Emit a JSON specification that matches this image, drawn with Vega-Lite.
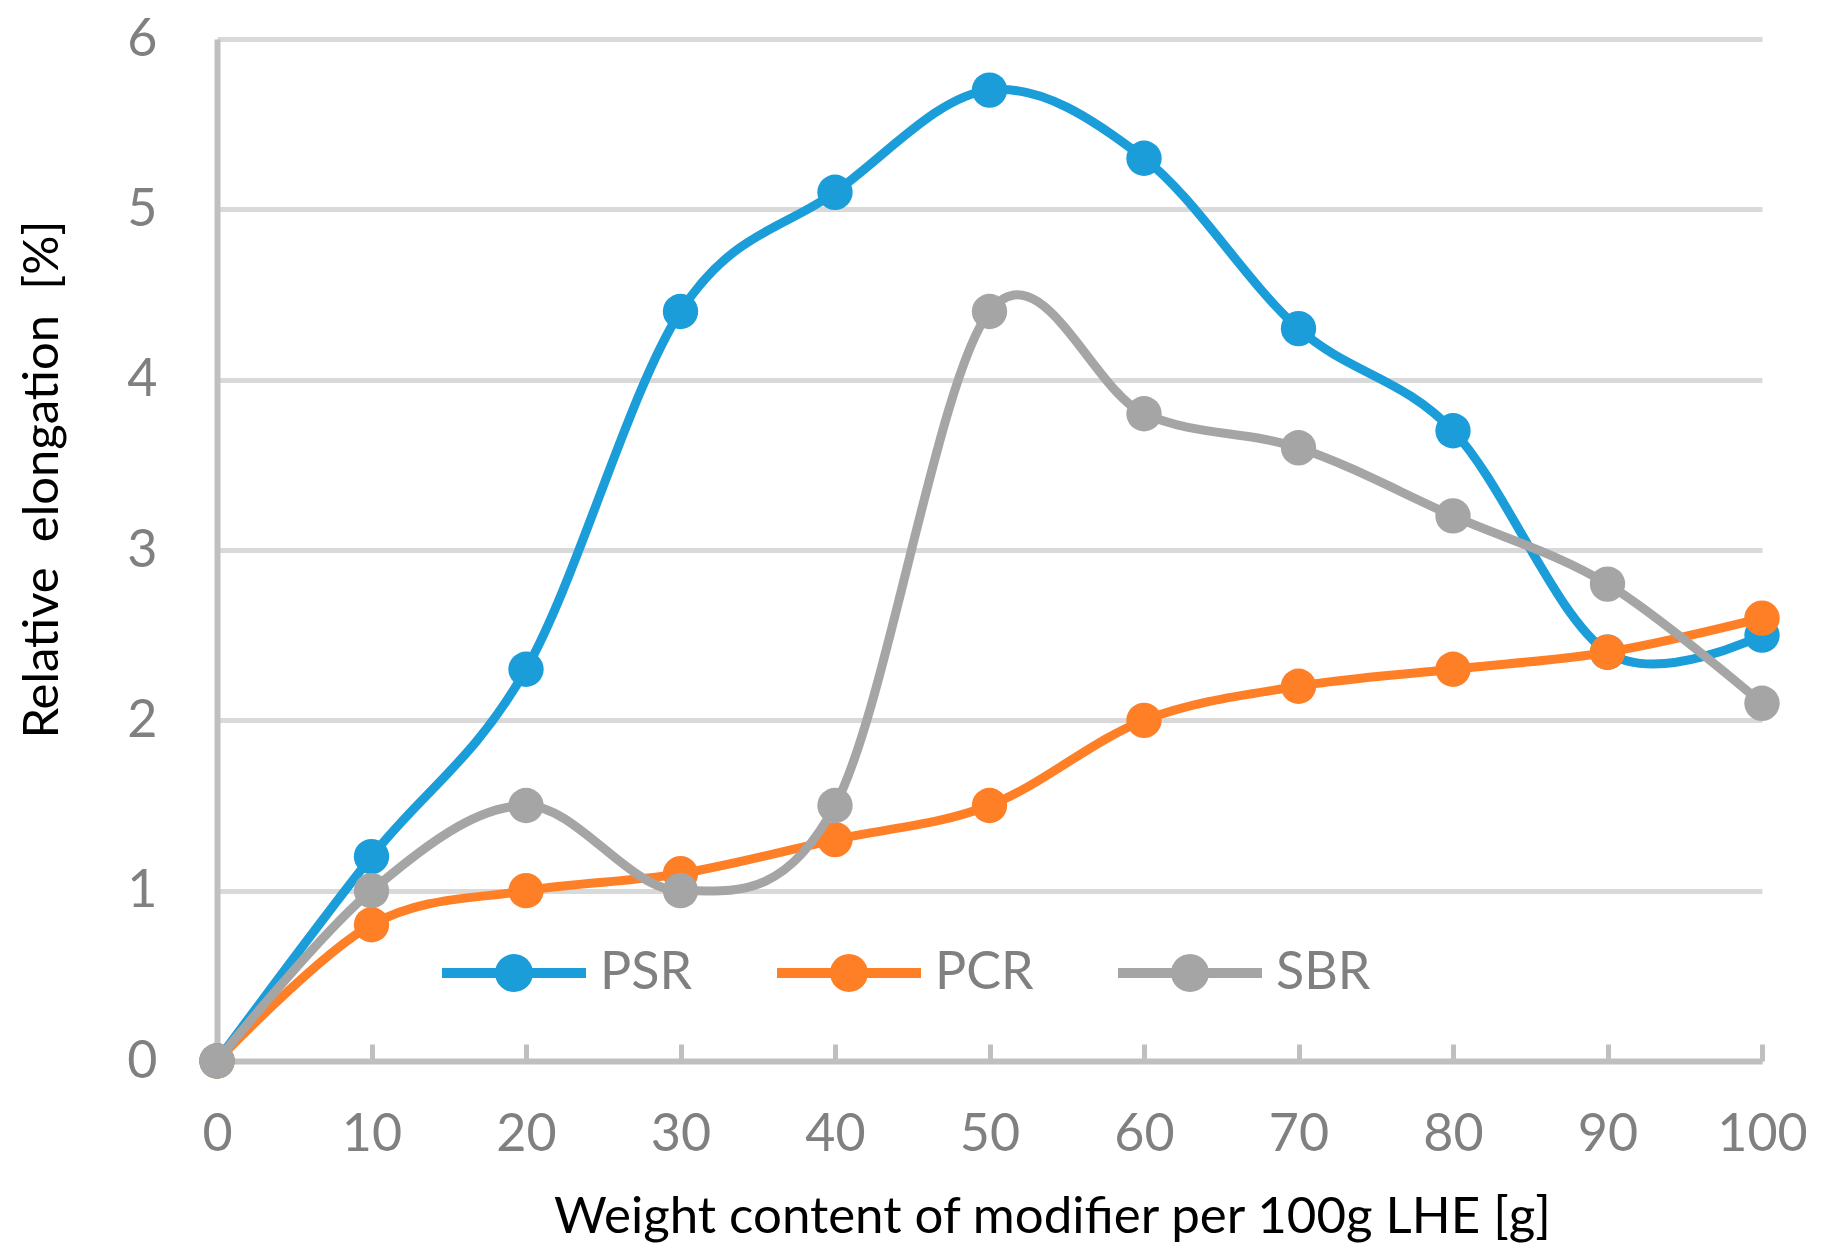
{
  "$schema": "https://vega.github.io/schema/vega-lite/v6.json",
  "width": 1545,
  "height": 1022,
  "autosize": {"type": "none"},
  "padding": {"left": 217, "top": 39, "right": 70, "bottom": 197},
  "background": "white",
  "config": {
    "view": {"stroke": null},
    "font": "Lato",
    "axis": {
      "labelFont": "Lato",
      "titleFont": "Lato",
      "labelColor": "#808080",
      "labelFontSize": 52,
      "titleColor": "#000000",
      "titleFontSize": 47,
      "titleFontWeight": "normal",
      "domainColor": "#BFBFBF",
      "domainWidth": 6,
      "gridColor": "#D9D9D9",
      "gridWidth": 5
    }
  },
  "data": {
    "values": [
      {"x": 0, "y": 0, "s": "PSR"}, {"x": 10, "y": 1.2, "s": "PSR"}, {"x": 20, "y": 2.3, "s": "PSR"},
      {"x": 30, "y": 4.4, "s": "PSR"}, {"x": 40, "y": 5.1, "s": "PSR"}, {"x": 50, "y": 5.7, "s": "PSR"},
      {"x": 60, "y": 5.3, "s": "PSR"}, {"x": 70, "y": 4.3, "s": "PSR"}, {"x": 80, "y": 3.7, "s": "PSR"},
      {"x": 90, "y": 2.4, "s": "PSR"}, {"x": 100, "y": 2.5, "s": "PSR"},
      {"x": 0, "y": 0, "s": "PCR"}, {"x": 10, "y": 0.8, "s": "PCR"}, {"x": 20, "y": 1.0, "s": "PCR"},
      {"x": 30, "y": 1.1, "s": "PCR"}, {"x": 40, "y": 1.3, "s": "PCR"}, {"x": 50, "y": 1.5, "s": "PCR"},
      {"x": 60, "y": 2.0, "s": "PCR"}, {"x": 70, "y": 2.2, "s": "PCR"}, {"x": 80, "y": 2.3, "s": "PCR"},
      {"x": 90, "y": 2.4, "s": "PCR"}, {"x": 100, "y": 2.6, "s": "PCR"},
      {"x": 0, "y": 0, "s": "SBR"}, {"x": 10, "y": 1.0, "s": "SBR"}, {"x": 20, "y": 1.5, "s": "SBR"},
      {"x": 30, "y": 1.0, "s": "SBR"}, {"x": 40, "y": 1.5, "s": "SBR"}, {"x": 50, "y": 4.4, "s": "SBR"},
      {"x": 60, "y": 3.8, "s": "SBR"}, {"x": 70, "y": 3.6, "s": "SBR"}, {"x": 80, "y": 3.2, "s": "SBR"},
      {"x": 90, "y": 2.8, "s": "SBR"}, {"x": 100, "y": 2.1, "s": "SBR"}
    ]
  },
  "encoding": {
    "x": {
      "field": "x", "type": "quantitative",
      "scale": {"domain": [0, 100], "nice": false, "zero": false},
      "axis": {
        "title": "Weight content of modifier per 100g LHE [g]",
        "titleFontSize": 51,
        "values": [0, 10, 20, 30, 40, 50, 60, 70, 80, 90, 100],
        "grid": false,
        "ticks": true,
        "tickSize": -17,
        "tickWidth": 5,
        "tickColor": "#BFBFBF",
        "labelPadding": 65,
        "labelFlush": false,
        "titleX": 835,
        "titleY": 156,
        "titleBaseline": "middle",
        "titleAnchor": null
      }
    },
    "y": {
      "field": "y", "type": "quantitative",
      "scale": {"domain": [0, 6], "nice": false},
      "axis": {
        "title": "Relative\u00a0 elongation\u00a0 [%]",
        "titleFontSize": 49,
        "values": [0, 1, 2, 3, 4, 5, 6],
        "grid": true,
        "ticks": false,
        "labelPadding": 60,
        "labelFlush": false,
        "titleX": -175,
        "titleY": 440,
        "titleAngle": -90,
        "titleBaseline": "middle",
        "titleAnchor": null
      }
    },
    "color": {
      "field": "s", "type": "nominal",
      "scale": {"domain": ["PSR", "PCR", "SBR"], "range": ["#1B9DD9", "#FF7F27", "#A5A5A5"]}
    }
  },
  "layer": [
    {
      "transform": [{"filter": "datum.s === 'PSR'"}],
      "mark": {"type": "line", "interpolate": "cardinal", "tension": 0, "strokeWidth": 9}
    },
    {
      "transform": [{"filter": "datum.s === 'PSR'"}],
      "mark": {"type": "point", "filled": true, "opacity": 1, "size": 1250}
    },
    {
      "transform": [{"filter": "datum.s === 'PCR'"}],
      "mark": {"type": "line", "interpolate": "cardinal", "tension": 0, "strokeWidth": 9}
    },
    {
      "transform": [{"filter": "datum.s === 'PCR'"}],
      "mark": {"type": "point", "filled": true, "opacity": 1, "size": 1250}
    },
    {
      "transform": [{"filter": "datum.s === 'SBR'"}],
      "mark": {"type": "line", "interpolate": "cardinal", "tension": 0, "strokeWidth": 9}
    },
    {
      "transform": [{"filter": "datum.s === 'SBR'"}],
      "mark": {"type": "point", "filled": true, "opacity": 1, "size": 1250},
      "encoding": {
        "color": {
          "field": "s", "type": "nominal",
          "scale": {"domain": ["PSR", "PCR", "SBR"], "range": ["#1B9DD9", "#FF7F27", "#A5A5A5"]},
          "legend": {
            "title": null,
            "orient": "none",
            "direction": "horizontal",
            "legendX": 225,
            "legendY": 862,
            "padding": 0,
            "columnPadding": 84,
            "symbolType": "M-1,-0.07L1,-0.07L1,0.07L-1,0.07Z M-0.264,0A0.264,0.264,0,1,1,0.264,0A0.264,0.264,0,1,1,-0.264,0Z",
            "symbolSize": 20736,
            "symbolStrokeWidth": 0,
            "labelFont": "Lato",
            "labelFontSize": 52,
            "labelColor": "#808080",
            "labelOffset": 14,
            "encode": {
              "symbols": {
                "update": {
                  "fill": {"scale": "color", "field": "value"},
                  "stroke": {"value": "transparent"},
                  "opacity": {"value": 1}
                }
              }
            }
          }
        }
      }
    }
  ]
}
